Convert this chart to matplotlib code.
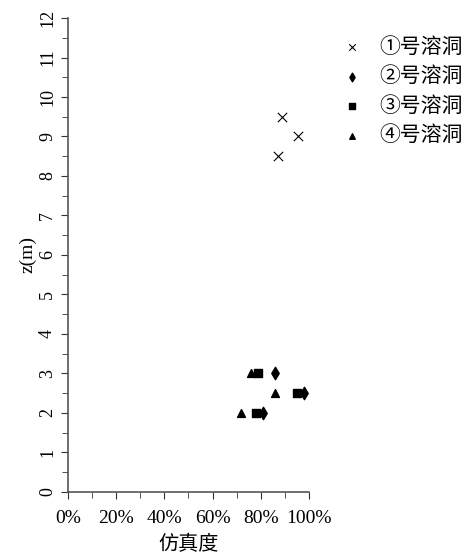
import numpy as np
import matplotlib.pyplot as plt
from matplotlib.ticker import MultipleLocator, PercentFormatter

plt.rcParams['font.family'] = ['Liberation Serif', 'Noto Sans CJK SC']

names = ['①号溶洞', '②号溶洞', '③号溶洞', '④号溶洞']
x1 = [0.89, 0.955, 0.87]
z1 = [9.5, 9.0, 8.5]
x2 = [0.81, 0.98, 0.86]
z2 = [2.0, 2.5, 3.0]
x3 = [0.78, 0.95, 0.79]
z3 = [2.0, 2.5, 3.0]
x4 = [0.72, 0.86, 0.76]
z4 = [2.0, 2.5, 3.0]

fig = plt.figure(figsize=(4.71, 5.54), dpi=100)
ax = fig.add_axes([0.144, 0.112, 0.512, 0.8555])

ax.scatter(x1, z1, marker='x', s=45, c='black', linewidths=0.8, label=names[0])
ax.scatter(x2, z2, marker='d', s=40, c='black', label=names[1])
ax.scatter(x3, z3, marker='s', s=32, c='black', label=names[2])
ax.scatter(x4, z4, marker='^', s=32, c='black', label=names[3])

ax.set_xlim(0, 1)
ax.set_ylim(0, 12)
ax.xaxis.set_major_locator(MultipleLocator(0.2))
ax.xaxis.set_minor_locator(MultipleLocator(0.1))
ax.xaxis.set_major_formatter(PercentFormatter(1.0, decimals=0))
ax.yaxis.set_major_locator(MultipleLocator(1))
ax.yaxis.set_minor_locator(MultipleLocator(0.5))
for s in ['top', 'right']:
    ax.spines[s].set_visible(False)
for s in ['left', 'bottom']:
    ax.spines[s].set_color('#555555')
    ax.spines[s].set_linewidth(1.2)
ax.tick_params(which='both', direction='out', color='#333333')
ax.tick_params(axis='x', labelsize=14, pad=8)
ax.tick_params(axis='y', labelsize=13)
ax.tick_params(which='major', length=5)
ax.tick_params(which='minor', length=4)
for lbl in ax.get_yticklabels():
    lbl.set_rotation(90)
    lbl.set_va('center')

ax.set_xlabel('仿真度', fontsize=14.5, family=['Noto Sans CJK SC'], labelpad=5)
ax.set_ylabel('z(m)', fontsize=14, labelpad=2)

ax.legend(loc='upper left', bbox_to_anchor=(1.085, 0.985), frameon=False,
          prop={'family': ['Noto Sans CJK SC'], 'size': 15},
          markerscale=0.7, handlelength=1.2, handletextpad=0.7,
          labelspacing=0.36, borderpad=0)

fig.savefig('out.png', dpi=100)
